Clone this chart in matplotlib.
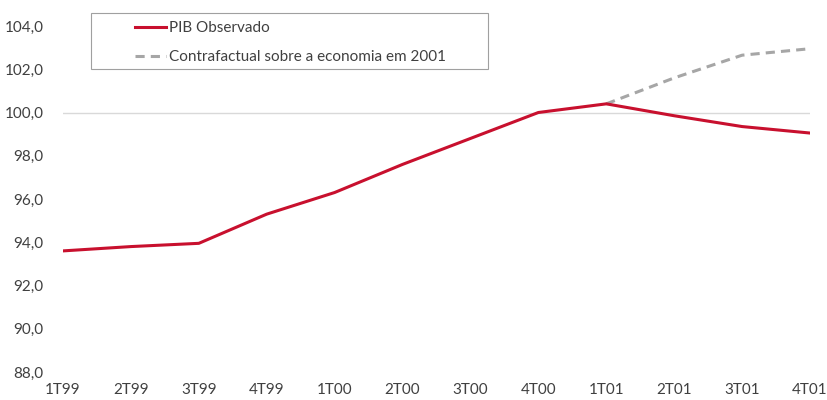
import matplotlib.pyplot as plt
from matplotlib.ticker import FuncFormatter
from matplotlib.patches import Rectangle

plt.rcParams['font.family'] = ['Lato', 'DejaVu Sans']

quarters = ['1T99', '2T99', '3T99', '4T99', '1T00', '2T00',
            '3T00', '4T00', '1T01', '2T01', '3T01', '4T01']
pib = [93.6, 93.8, 93.95, 95.3, 96.3, 97.6, 98.8, 100.0, 100.4, 99.85, 99.35, 99.05]
contrafactual = [None] * 8 + [100.4, 101.6, 102.65, 102.95]

red = '#C8102E'
grey = '#A6A6A6'
text_col = '#404040'
W, H = 828, 400

x = list(range(len(quarters)))
cf_x = [i for i, v in zip(x, contrafactual) if v is not None]
cf_y = [v for v in contrafactual if v is not None]

fig = plt.figure(figsize=(8.28, 4.0), dpi=100)
ax = fig.add_axes([63 / W, 0.07, (810 - 63) / W, 0.865])

ax.axhline(100, color='#D9D9D9', lw=1, zorder=1)
ax.plot(cf_x, cf_y, color=grey, lw=2.2, ls=(0, (3, 2)),
        label='Contrafactual sobre a economia em 2001', zorder=2)
ax.plot(x, pib, color=red, lw=2.2, label='PIB Observado', zorder=3)

ax.set_xlim(0, 11)
ax.set_ylim(88, 104)
ax.set_yticks(range(88, 105, 2))
ax.yaxis.set_major_formatter(FuncFormatter(lambda v, p: f'{v:.1f}'.replace('.', ',')))
ax.set_xticks(x)
ax.set_xticklabels(quarters)
ax.tick_params(length=0, labelsize=11, colors=text_col)
ax.tick_params(axis='y', pad=14)
ax.tick_params(axis='x', pad=8)
for s in ax.spines.values():
    s.set_visible(False)

# legend box drawn separately so it can be wider than its contents
fig.patches.append(Rectangle((91 / W, 1 - 69 / H), (488 - 91) / W, (69 - 13) / H,
                             transform=fig.transFigure, fill=False,
                             edgecolor='#A0A0A0', lw=0.8))
handles, labels = ax.get_legend_handles_labels()
leg = fig.legend(handles[::-1], labels[::-1], loc='upper left',
                 bbox_to_anchor=(135 / W, 1 - 21 / H), fontsize=11,
                 frameon=False, handlelength=2.0, handletextpad=0.2,
                 borderpad=0, borderaxespad=0, labelspacing=1.0)
for t in leg.get_texts():
    t.set_color(text_col)

fig.savefig('out.png', dpi=100)
